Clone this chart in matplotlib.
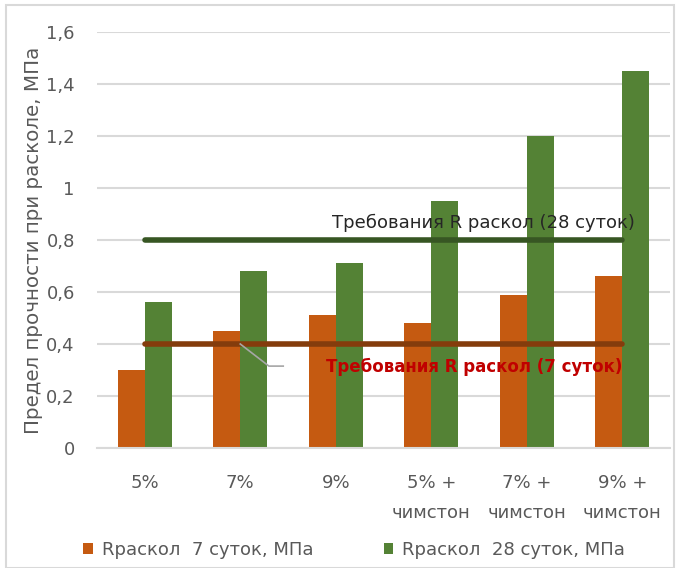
import matplotlib
matplotlib.use("Agg")
import matplotlib.pyplot as plt
import numpy as np
from matplotlib.patches import Rectangle

plt.rcParams['font.family'] = ['DejaVu Sans']

categories = ["5%", "7%", "9%", "5% +\nчимстон", "7% +\nчимстон", "9% +\nчимстон"]
r7 = [0.30, 0.45, 0.51, 0.48, 0.59, 0.66]
r28 = [0.56, 0.68, 0.71, 0.95, 1.20, 1.45]
req28 = 0.8
req7 = 0.4
yticks = [0, 0.2, 0.4, 0.6, 0.8, 1.0, 1.2, 1.4, 1.6]
ytick_labels = ["0", "0,2", "0,4", "0,6", "0,8", "1", "1,2", "1,4", "1,6"]

c_orange = "#c55a11"
c_green = "#548235"
c_text = "#595959"

W, H = 680, 568
fig = plt.figure(figsize=(W / 100, H / 100), dpi=100)

# outer chart frame
fig.patches.append(Rectangle((6 / W, 0), 668 / W, 563 / H, transform=fig.transFigure,
                             fill=False, edgecolor="#d9d9d9", linewidth=1.5))

ax = fig.add_axes([97 / W, 1 - 448 / H, 573 / W, 416 / H])
x = np.arange(len(categories))
bw = 0.283
ax.bar(x - bw / 2, r7, bw, color=c_orange, label="Rраскол  7 суток, МПа", zorder=2)
ax.bar(x + bw / 2, r28, bw, color=c_green, label="Rраскол  28 суток, МПа", zorder=2)

ax.set_xlim(-0.5, len(categories) - 0.5)
ax.set_ylim(0, 1.6)
ax.set_yticks(yticks)
ax.set_yticklabels(ytick_labels)
ax.set_xticks(x)
ax.set_xticklabels(categories, linespacing=1.85)
ax.yaxis.grid(True, color="#d9d9d9", linewidth=1.5, zorder=0)
ax.set_axisbelow(True)
for s in ax.spines.values():
    s.set_visible(False)
ax.spines['bottom'].set_visible(True)
ax.spines['bottom'].set_color("#d9d9d9")
ax.spines['bottom'].set_linewidth(1.5)
ax.tick_params(axis='both', length=0, colors=c_text, labelsize=13)
ax.tick_params(axis='y', pad=16)
ax.tick_params(axis='x', pad=19)
ax.set_ylabel("Предел прочности при расколе, МПа", color=c_text, fontsize=14.3, labelpad=2)

# requirement lines
ax.plot([0, 5], [req28, req28], color="#375623", linewidth=4, solid_capstyle='round', zorder=3)
ax.plot([0, 5], [req7, req7], color="#843c0c", linewidth=4, solid_capstyle='round', zorder=3)
ax.text(5.13, 0.865, "Требования R раскол (28 суток)", ha='right', va='center',
        fontsize=13, color="#262626", zorder=4)
ax.text(5.0, 0.31, "Требования R раскол (7 суток)", ha='right', va='center',
        fontsize=12, color="#c00000", fontweight='bold', zorder=4)
ax.plot([1.0, 1.30, 1.45], [req7, 0.315, 0.315], color="#a6a6a6", linewidth=1.2, zorder=3)

leg = fig.legend(loc='center', bbox_to_anchor=(354 / W, 1 - 550 / H), ncol=2, frameon=False,
                 fontsize=13, handlelength=0.55, handleheight=0.55, handletextpad=0.5,
                 columnspacing=3.9, labelcolor=c_text)

fig.savefig("out.png", dpi=100)
